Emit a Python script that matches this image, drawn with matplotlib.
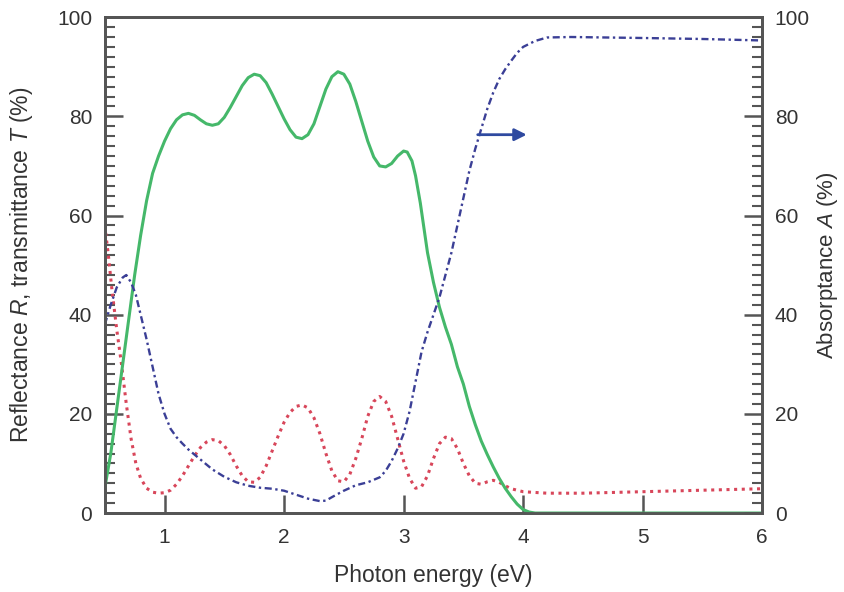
import matplotlib
matplotlib.use('Agg')
import matplotlib.pyplot as plt
from matplotlib.ticker import MultipleLocator

plt.rcParams['font.family'] = ['Liberation Sans', 'DejaVu Sans']
plt.rcParams['mathtext.fontset'] = 'custom'
plt.rcParams['mathtext.rm'] = 'Liberation Sans'
plt.rcParams['mathtext.it'] = 'Liberation Sans:italic'

# transmittance T (%)
t_x = [0.5, 0.55, 0.6, 0.65, 0.7, 0.75, 0.8, 0.85, 0.9, 0.95, 1.0, 1.05, 1.1, 1.15, 1.2,
       1.25, 1.3, 1.35, 1.4, 1.45, 1.5, 1.55, 1.6, 1.65, 1.7, 1.75, 1.8, 1.85, 1.9, 1.95,
       2.0, 2.05, 2.1, 2.15, 2.2, 2.25, 2.3, 2.35, 2.4, 2.45, 2.5, 2.55, 2.6, 2.65, 2.7,
       2.75, 2.8, 2.85, 2.9, 2.95, 3.0, 3.03, 3.07, 3.1, 3.14, 3.2, 3.25, 3.3, 3.35, 3.4,
       3.45, 3.5, 3.55, 3.6, 3.65, 3.7, 3.75, 3.8, 3.85, 3.9, 3.95, 4.0, 4.05, 4.1, 6.0]
t_val = [5, 12, 21, 30, 39, 48, 56, 63, 68.5, 72, 75, 77.5, 79.3, 80.3, 80.6,
         80.2, 79.3, 78.5, 78.2, 78.5, 79.8, 81.8, 84, 86.2, 87.8, 88.5, 88.2, 86.8, 84.5, 82,
         79.5, 77.3, 75.8, 75.5, 76.3, 78.5, 82, 85.5, 88, 89, 88.5, 86.5, 83, 79, 75,
         71.8, 70, 69.8, 70.5, 72, 73, 72.8, 71, 68, 62.5, 52.5, 46.5, 41.5, 37.5, 34,
         29.5, 26, 21.5, 17.8, 14.5, 11.8, 9.3, 7, 5, 3.3, 1.8, 0.7, 0.2, 0, 0]

# reflectance R (%)
r_x = [0.5, 0.53, 0.56, 0.6, 0.64, 0.68, 0.72, 0.76, 0.8, 0.85, 0.9, 0.95, 1.0, 1.05, 1.1,
       1.15, 1.2, 1.25, 1.3, 1.35, 1.4, 1.45, 1.5, 1.55, 1.6, 1.65, 1.7, 1.75, 1.8, 1.85,
       1.9, 1.95, 2.0, 2.05, 2.1, 2.15, 2.2, 2.25, 2.3, 2.35, 2.4, 2.45, 2.5, 2.55, 2.6,
       2.65, 2.7, 2.75, 2.8, 2.85, 2.9, 2.95, 3.0, 3.05, 3.1, 3.15, 3.2, 3.25, 3.3, 3.35,
       3.4, 3.45, 3.5, 3.55, 3.6, 3.65, 3.7, 3.75, 3.8, 3.85, 3.9, 4.0, 4.2, 4.5, 5.0, 5.5, 6.0]
r_val = [58, 52, 45, 37, 30, 22, 15, 10, 7, 5, 4.2, 4, 4.1, 4.6, 5.8,
         7.5, 9.5, 11.5, 13.2, 14.3, 14.8, 14.6, 13.6, 11.8, 9.5, 7.5, 6.3, 6.2, 7.2, 9.5,
         12.5, 15.5, 18.3, 20.3, 21.5, 21.8, 21.2, 19.2, 16, 12, 8.5, 6.5, 6.3, 7.8, 11,
         15, 19.5, 22.5, 23.5, 22.5, 19.5, 15, 10.5, 7, 5, 5.3, 7.5, 11, 14, 15.3,
         15, 13, 10, 7.5, 6, 5.8, 6.3, 6.6, 6.2, 5.5, 4.9, 4.3, 4.0, 4.0, 4.3, 4.6, 4.9]

# absorptance A (%)
a_x = [0.5, 0.55, 0.6, 0.65, 0.68, 0.72, 0.76, 0.8, 0.85, 0.9, 0.95, 1.0, 1.05, 1.1, 1.15,
       1.2, 1.3, 1.4, 1.5, 1.6, 1.7, 1.8, 1.9, 2.0, 2.1, 2.2, 2.3, 2.35, 2.4, 2.5,
       2.6, 2.7, 2.8, 2.85, 2.9, 2.95, 3.0, 3.05, 3.1, 3.15, 3.2, 3.25, 3.3, 3.35, 3.4,
       3.45, 3.5, 3.55, 3.6, 3.65, 3.7, 3.75, 3.8, 3.85, 3.9, 3.95, 4.0, 4.1, 4.2, 4.4,
       5.0, 5.5, 6.0]
a_val = [38, 42, 45.5, 47.5, 48, 46.5, 44, 40, 35, 29.5, 24, 20, 17, 15.3, 14,
         12.8, 10.8, 8.8, 7.3, 6.2, 5.5, 5.1, 4.9, 4.5, 3.7, 2.9, 2.4, 2.5, 3.2, 4.5,
         5.6, 6.2, 7.2, 8.5, 10.5, 13, 16, 20.5, 26.5, 32.5, 36.5, 40, 43.5, 48, 52.5,
         58, 63.5, 69, 73.5, 77.5, 81.5, 84.8, 87.5, 89.5, 91.2, 92.8, 94, 95.2, 95.9, 96,
         95.8, 95.6, 95.3]

spine_col = '#555555'
text_col = '#333333'

fig = plt.figure(figsize=(8.45, 5.92), dpi=100)
ax = fig.add_axes([0.124, 0.1334, 0.778, 0.8376])
ax2 = ax.twinx()

ax.plot(t_x, t_val, color='#45b86a', lw=2.2, zorder=3)
ax.plot(r_x, r_val, color='#d8465a', lw=2.2, linestyle=(0, (1, 1.5)), zorder=2)
ax2.plot(a_x, a_val, color='#3b3f96', lw=1.7, linestyle=(0, (3, 1.5, 1, 1.5)))

ax2.annotate('', xy=(4.03, 76.3), xytext=(3.62, 76.3),
             arrowprops=dict(arrowstyle='-|>', color='#2f4aa0', lw=2,
                             mutation_scale=18, shrinkA=0, shrinkB=0))

for a in (ax, ax2):
    a.set_xlim(0.5, 6)
    a.set_ylim(0, 100)
    for s in a.spines.values():
        s.set_color(spine_col)
        s.set_linewidth(2)

ax.xaxis.set_major_locator(MultipleLocator(1))
ax.yaxis.set_major_locator(MultipleLocator(20))
ax.yaxis.set_minor_locator(MultipleLocator(2))
ax2.yaxis.set_major_locator(MultipleLocator(20))
ax2.yaxis.set_minor_locator(MultipleLocator(2))

ax.tick_params(axis='x', which='major', direction='in', length=13, width=1.8,
               color=spine_col, labelsize=15, labelcolor=text_col, pad=11)
ax.tick_params(axis='y', which='major', direction='in', length=13, width=1.8,
               color=spine_col, labelsize=15, labelcolor=text_col, pad=9)
ax.tick_params(axis='y', which='minor', direction='in', length=7, width=1.5, color=spine_col)
ax2.tick_params(axis='y', which='major', direction='in', length=13, width=1.8,
                color=spine_col, labelsize=15, labelcolor=text_col, pad=9)
ax2.tick_params(axis='y', which='minor', direction='in', length=7, width=1.5, color=spine_col)

ax.set_xlabel('Photon energy (eV)', fontsize=16.5, color=text_col, labelpad=12)
ax.set_ylabel('Reflectance $R$, transmittance $T$ (%)', fontsize=16.5, color=text_col, labelpad=16)
ax2.set_ylabel('Absorptance $A$ (%)', fontsize=16, color=text_col, labelpad=4)

fig.savefig('out.png', dpi=100)
